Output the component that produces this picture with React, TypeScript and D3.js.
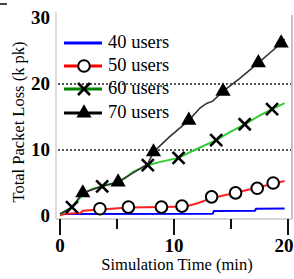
import React from "react";
import * as d3 from "d3";

// ---- data (time in minutes, loss in k packets) ----
const seriesNames = ["40 users", "50 users", "60 users", "70 users"];

const users40: [number, number][] = [
  [0, 0.3], [13.4, 0.35], [13.5, 0.75], [17.1, 0.8], [17.2, 1.1], [19.7, 1.15],
];
const users50: [number, number][] = [
  [0, 0.1], [0.5, 0.35], [1.8, 0.45], [2.0, 0.8], [3.5, 1.0], [4.5, 1.1], [6.0, 1.3],
  [9.0, 1.35], [11.0, 1.45], [12.0, 1.9], [13.3, 2.7], [14.3, 3.1], [15.4, 3.5],
  [16.3, 3.9], [17.3, 4.3], [18.7, 4.9], [19.7, 5.3],
];
const users50Markers: [number, number][] = [
  [3.5, 1.1], [6.0, 1.35], [8.9, 1.35], [10.7, 1.5], [13.3, 2.9], [15.4, 3.5], [17.3, 4.2], [18.7, 5.0],
];
const users60: [number, number][] = [
  [0, 0.3], [0.5, 0.75], [1.05, 1.35], [1.6, 2.4], [2.0, 3.3], [2.8, 4.1], [3.7, 4.5],
  [4.4, 4.85], [5.1, 5.15], [5.7, 5.75], [6.4, 6.7], [7.7, 7.7], [8.8, 8.2], [10.4, 8.8],
  [11.8, 10.0], [13.7, 11.5], [14.9, 12.7], [16.2, 13.9], [17.5, 15.2], [18.6, 16.2], [19.7, 17.1],
];
const users60Markers: [number, number][] = [
  [1.05, 1.35], [3.7, 4.5], [7.7, 7.7], [10.4, 8.8], [13.7, 11.5], [16.2, 13.9], [18.6, 16.2],
];
const users70: [number, number][] = [
  [0, 0.3], [1.05, 1.35], [2.0, 3.5], [3.5, 4.4], [5.1, 5.15], [6.1, 6.2], [7.7, 7.9],
  [8.2, 9.7], [9.6, 12.0], [11.3, 14.5], [12.3, 16.4], [12.9, 17.1], [13.4, 17.4],
  [14.3, 18.9], [15.8, 20.9], [17.4, 23.2], [18.4, 24.7], [19.4, 26.2], [19.7, 26.8],
];
const users70Markers: [number, number][] = [
  [2.0, 3.5], [5.1, 5.15], [8.2, 9.7], [11.3, 14.5], [14.3, 18.9], [17.4, 23.2], [19.4, 26.2],
];

const xTicksMajor = [0, 10, 20];
const xTicksMinor = [5, 15];
const yTicks = [0, 10, 20, 30];
const yGrid = [10, 20];

export default function App() {
  const W = 294, H = 279;
  const x = d3.scaleLinear().domain([0, 20]).range([60, 288]);
  const y = d3.scaleLinear().domain([0, 30]).range([216, 18]);
  const line = d3.line<[number, number]>().x(d => x(d[0])).y(d => y(d[1]));
  const tri = d3.symbol().type(d3.symbolTriangle).size(100)() as string;
  const font = "Liberation Serif";

  const frameL = 56, frameR = 292, frameB = 219;

  const circle = (cx: number, cy: number, k: string) => (
    <circle key={k} cx={cx} cy={cy} r={5.8} fill="white" stroke="black" strokeWidth={2} />
  );
  const cross = (cx: number, cy: number, k: string) => (
    <g key={k} stroke="black" strokeWidth={2.6}>
      <line x1={cx - 6} y1={cy - 6} x2={cx + 6} y2={cy + 6} />
      <line x1={cx - 6} y1={cy + 6} x2={cx + 6} y2={cy - 6} />
    </g>
  );
  const triangle = (cx: number, cy: number, k: string) => (
    <path key={k} d={tri} transform={`translate(${cx},${cy})`} fill="black" />
  );

  const legendRows = [
    { color: "#0000ff", marker: null as any },
    { color: "#ff0000", marker: circle },
    { color: "#008000", marker: cross },
    { color: "#000000", marker: triangle },
  ];
  const legendY = [43, 66, 89, 113];

  return (
    <div style={{ position: "absolute", left: 0, top: 0 }}>
      <svg width={W} height={H} style={{ display: "block", background: "white", fontFamily: font }}>
        <line x1={0} y1={4} x2={7} y2={4} stroke="#444" strokeWidth={2} />
        {/* frame */}
        <line x1={frameL} y1={12} x2={frameL} y2={frameB} stroke="#d0d0d0" strokeWidth={1.5} />
        <line x1={frameR} y1={15} x2={frameR} y2={frameB} stroke="#b0b0b0" strokeWidth={1.5} />
        <line x1={frameL} y1={frameB} x2={frameR} y2={frameB} stroke="#c8c8c8" strokeWidth={1.5} />
        {/* grid */}
        {yGrid.map(v => (
          <line key={v} x1={58} x2={291} y1={y(v)} y2={y(v)} stroke="#222" strokeWidth={1.5} strokeDasharray="2,2" />
        ))}
        {/* x ticks */}
        {xTicksMajor.map(v => (
          <g key={v}>
            <line x1={x(v)} x2={x(v)} y1={frameB} y2={frameB + 16} stroke="#111" strokeWidth={2} />
            <text x={x(v) - (v === 20 ? 4 : 0)} y={252} textAnchor="middle" style={{ fontFamily: font }} fontWeight="bold" fontSize={19}>{v}</text>
          </g>
        ))}
        {xTicksMinor.map(v => (
          <line key={v} x1={x(v)} x2={x(v)} y1={frameB} y2={frameB + 10} stroke="#111" strokeWidth={2} />
        ))}
        {/* y tick labels */}
        {yTicks.map(v => (
          <text key={v} x={50} y={y(v) + 6} textAnchor="end" style={{ fontFamily: font }} fontWeight="bold" fontSize={19}>{v}</text>
        ))}
        {/* axis titles */}
        <text x={177} y={270} textAnchor="middle" style={{ fontFamily: font }} fontSize={16.5}>Simulation Time (min)</text>
        <text transform={`translate(24,122) rotate(-90)`} textAnchor="middle" style={{ fontFamily: font }} fontSize={16.5}>Total Packet Loss (k pk)</text>
        {/* series */}
        <path d={line(users40)!} fill="none" stroke="#0000ff" strokeWidth={2} />
        <path d={line(users50)!} fill="none" stroke="#ff2020" strokeWidth={2} />
        <path d={line(users60)!} fill="none" stroke="#33cc33" strokeWidth={2} />
        <path d={line(users70)!} fill="none" stroke="#333" strokeWidth={1.6} />
        {users50Markers.map((d, i) => circle(x(d[0]), y(d[1]), "c" + i))}
        {users60Markers.map((d, i) => cross(x(d[0]), y(d[1]), "x" + i))}
        {users70Markers.map((d, i) => triangle(x(d[0]), y(d[1]), "t" + i))}
        {/* legend */}
        {seriesNames.map((name, i) => (
          <g key={name}>
            <line x1={64} x2={102} y1={legendY[i]} y2={legendY[i]} stroke={legendRows[i].color} strokeWidth={3} />
            {legendRows[i].marker && legendRows[i].marker(84, legendY[i], "lm" + i)}
            <text x={108} y={legendY[i] + 5} style={{ fontFamily: font }} fontSize={18.5}>{name}</text>
          </g>
        ))}
      </svg>
    </div>
  );
}
